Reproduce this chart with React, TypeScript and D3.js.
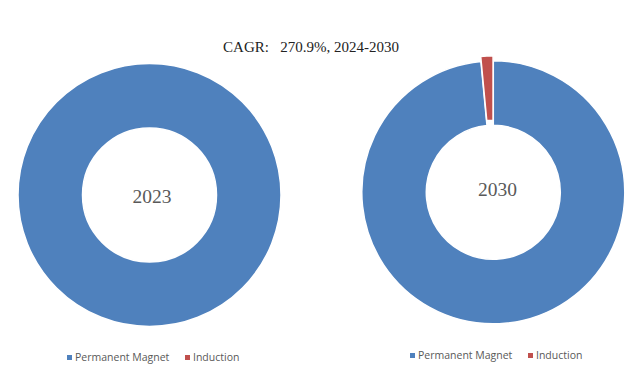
import React from "react";
import * as d3 from "d3";

const categories = ["Permanent Magnet", "Induction"];
const years = ["2023", "2030"];
const values2023 = [100, 0];
const values2030 = [98.5, 1.5];
const colors = ["#4F81BD", "#C0504D"];
const title = "CAGR:   270.9%, 2024-2030";

const W = 643;
const H = 379;

type DonutProps = {
  cx: number;
  cy: number;
  values: number[];
  label: string;
  labelX: number;
  labelY: number;
  explode: number;
};

function Donut({ cx, cy, values, label, labelX, labelY, explode }: DonutProps) {
  const pie = d3
    .pie<number>()
    .sort(null)
    .value((d) => d)
    .startAngle(0)
    .endAngle(2 * Math.PI);
  const arcs = pie(values);
  const outer = 131.5;
  const inner = 67;
  const arc = d3.arc<d3.PieArcDatum<number>>().innerRadius(inner).outerRadius(outer);
  return (
    <g transform={`translate(${cx},${cy})`}>
      {arcs.map((a, i) => {
        if (a.value <= 0) return null;
        const mid = (a.startAngle + a.endAngle) / 2;
        const off = i === 1 ? explode : 0;
        const dx = Math.sin(mid) * off;
        const dy = -Math.cos(mid) * off;
        return (
          <path
            key={i}
            d={arc(a) || ""}
            transform={`translate(${dx},${dy})`}
            fill={colors[i]}
            stroke="#ffffff"
            strokeWidth={1.5}
          />
        );
      })}
      <text
        x={labelX - cx}
        y={labelY - cy}
        textAnchor="middle"
        fontFamily="'Liberation Serif', 'DejaVu Serif', serif"
        fontSize={19.5}
        fill="#595959"
      >
        {label}
      </text>
    </g>
  );
}

function Legend({ x, y }: { x: number; y: number }) {
  const offsets = [0, 118];
  return (
    <g transform={`translate(${x},${y})`}>
      {categories.map((c, i) => (
        <g key={c} transform={`translate(${offsets[i]},0)`}>
          <rect x={0} y={-6} width={5} height={5} fill={colors[i]} />
          <text
            x={8}
            y={0}
            fontFamily="'Open Sans', 'Liberation Sans', sans-serif"
            fontSize={10.5}
            fill="#595959"
          >
            {c}
          </text>
        </g>
      ))}
    </g>
  );
}

export default function App() {
  return (
    <svg
      width={W}
      height={H}
      style={{ position: "absolute", left: 0, top: 0, background: "#fff" }}
    >
      <text
        x={311}
        y={51.5}
        textAnchor="middle"
        fontFamily="'Liberation Serif', 'DejaVu Serif', serif"
        fontSize={15}
        fontWeight="normal"
        fill="#222"
        style={{ whiteSpace: "pre" }}
      >
        {title}
      </text>
      <Donut cx={149.5} cy={195} values={values2023} label={years[0]} labelX={152} labelY={203} explode={0} />
      <Donut cx={493.3} cy={192.3} values={values2030} label={years[1]} labelX={497.5} labelY={196} explode={5} />
      <Legend x={67} y={361} />
      <Legend x={410} y={359} />
    </svg>
  );
}
